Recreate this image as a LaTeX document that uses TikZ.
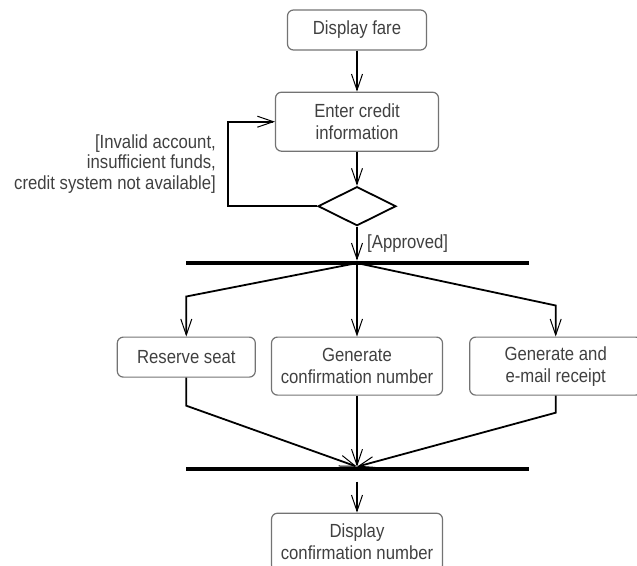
\documentclass[tikz,border=0pt]{standalone}
\usepackage{fontspec}
\setmainfont{Liberation Sans}[FakeStretch=0.88]
\usetikzlibrary{positioning,shapes.geometric,arrows.meta}
\definecolor{boxgray}{gray}{0.45}
\definecolor{textgray}{gray}{0.25}

\begin{document}
\begin{tikzpicture}[x=1pt, y=-1pt, node distance=41pt,
	    block/.style={rectangle, draw=boxgray, line width=1.2pt, rounded corners=6pt, align=center, text=textgray, minimum height=40pt, inner sep=2pt, font=\fontsize{19}{22}\selectfont},
	    decision/.style={diamond, draw, line width=1.8pt, minimum width=78pt, minimum height=39pt, inner sep=0pt},
	    bar/.style={rectangle, fill=black, minimum width=343pt, minimum height=4.5pt, inner sep=0pt},
	    lbl/.style={text=textgray, font=\fontsize{19}{20.5}\selectfont},
	    line/.style={draw, line width=1.8pt, -{Straight Barb[length=16pt,width=11pt,line width=1pt]}}]
	    \useasboundingbox (0,0) rectangle (637,565);
	    
	    \node [block, minimum width=139pt] (fare) at (357,30) {Display fare};
	    \node [block, minimum width=163pt, minimum height=59pt, below=41pt of fare] (credit) {Enter credit\\information};
	    \node [decision, below=34pt of credit] (dec) {};
	    \node [bar, below=34pt of dec] (fork) {};
	    \node [block, minimum width=171pt, minimum height=58pt, below=71pt of fork] (gen) {Generate\\confirmation number};
	    \node [block, minimum width=138pt, anchor=north east] (seat) at ([xshift=-15pt]gen.north west) {Reserve seat};
	    \node [block, minimum width=172pt, minimum height=58pt, anchor=north west] (mail) at ([xshift=26pt]gen.north east) {Generate and\\e-mail receipt};
	    \node [bar, below=71pt of gen] (join) {};
	    \node [block, minimum width=171pt, minimum height=58pt, below=41pt of join] (disp) {Display\\confirmation number};
	    \coordinate (fk) at (dec.south |- fork.center);
	    \coordinate (jn) at (gen.south |- join.north);
	    
	    \path [line] (fare) -- (credit);
	    \path [line] (credit) -- (dec);
	    \path [line] (dec.west) -- ++(-89,0) |- node[lbl, pos=0.25, left=8pt, align=right] {[Invalid account,\\insufficient funds,\\credit system not available]} (credit.west);
	    \path [line] (dec.south) -- node[lbl, right=6pt] {[Approved]} (dec.south |- fork.north);
	    
	    \path [line] (fk) -- ([yshift=40pt]seat.north) -- (seat.north);
	    \path [line] (fk) -- (gen.north);
	    \path [line] (fk) -- ([yshift=31pt]mail.north) -- (mail.north);
	    
	    \path [line] (seat.south) -- ([yshift=-28pt]seat.south) -- (jn);
	    \path [line] (gen.south) -- (jn);
	    \path [line] (mail.south) -- ([yshift=-17pt]mail.south) -- (jn);
	    \path [line] ([yshift=-10pt]join.south -| gen.south) -- (disp.north);
	\end{tikzpicture}
\end{document}
